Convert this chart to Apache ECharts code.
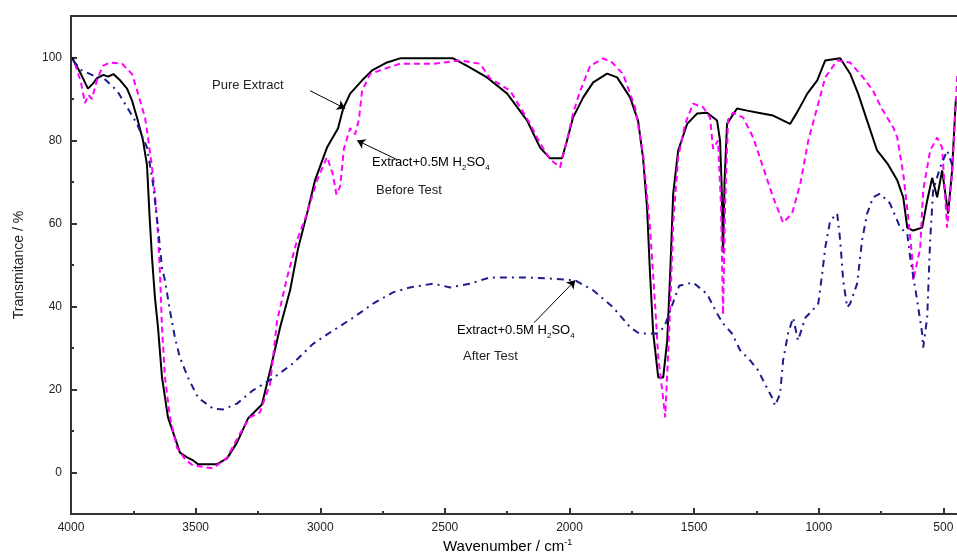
<!DOCTYPE html>
<html>
<head>
<meta charset="utf-8">
<title>FTIR spectra</title>
<script src="https://cdn.jsdelivr.net/npm/echarts@6/dist/echarts.min.js"></script>
<style>
    html, body { margin: 0; padding: 0; background: #fff; }
    #chart { width: 957px; height: 559px; }
</style>
</head>
<body>
<div id="chart"></div>
<script>
(function () {
    "use strict";

    // ---- Data (wavenumber in cm-1, transmittance in %) ----
    const pureWn = [3996, 3960, 3932, 3912, 3896, 3870, 3851, 3830, 3803, 3775, 3755, 3735, 3711, 3695, 3685, 3675, 3663, 3651, 3635, 3611, 3583, 3563, 3530, 3510, 3490, 3414, 3374, 3334, 3290, 3234, 3201, 3161, 3121, 3089, 3053, 3021, 2973, 2929, 2908, 2880, 2832, 2792, 2732, 2680, 2467, 2411, 2331, 2250, 2170, 2118, 2078, 2030, 2010, 1986, 1945, 1905, 1849, 1809, 1757, 1725, 1705, 1689, 1677, 1664, 1644, 1624, 1608, 1596, 1584, 1564, 1528, 1488, 1448, 1408, 1396, 1390, 1384, 1378, 1368, 1328, 1287, 1243, 1183, 1115, 1083, 1046, 1006, 974, 914, 874, 842, 806, 766, 725, 685, 661, 645, 621, 585, 565, 545, 525, 505, 481, 465, 450];
    const pureT = [100, 96, 92.5, 93.7, 95, 95.8, 95.4, 96, 94.5, 92.5, 89.6, 85.5, 80, 74, 62, 51.8, 42, 35, 23, 13.3, 8.4, 4.8, 3.5, 2.9, 2, 2, 3.4, 7.2, 13, 16.4, 24.6, 35, 43.9, 54, 62.4, 70.4, 78.3, 82.9, 87.7, 91.3, 94.5, 96.9, 98.8, 99.8, 99.8, 98, 95.2, 91.3, 84.8, 78.3, 75.7, 75.7, 80, 85.5, 90.4, 94, 96.1, 95.2, 90.4, 84.8, 75.9, 63.9, 48, 33.5, 22.9, 22.9, 31.8, 48, 67.2, 77.6, 84, 86.5, 86.7, 84.8, 80, 70, 53, 70, 84, 87.7, 87.2, 86.7, 86, 84, 87.2, 91.3, 94.5, 99.3, 99.8, 96.1, 91.3, 84.8, 77.6, 74.5, 70.4, 66.3, 59, 58.3, 59, 65.5, 71, 66.3, 72.8, 62.4, 72.8, 90];

    const beforeWn = [3984, 3960, 3944, 3930, 3916, 3896, 3872, 3843, 3795, 3755, 3731, 3703, 3691, 3675, 3663, 3651, 3643, 3635, 3623, 3603, 3575, 3540, 3510, 3430, 3374, 3322, 3282, 3242, 3201, 3173, 3133, 3093, 3053, 3013, 2973, 2950, 2935, 2920, 2905, 2880, 2860, 2845, 2832, 2800, 2760, 2680, 2547, 2439, 2359, 2319, 2238, 2158, 2118, 2078, 2038, 2010, 1986, 1957, 1917, 1865, 1829, 1785, 1737, 1705, 1677, 1656, 1644, 1628, 1616, 1608, 1596, 1584, 1564, 1536, 1504, 1464, 1436, 1424, 1404, 1392, 1384, 1376, 1364, 1344, 1303, 1263, 1223, 1183, 1143, 1107, 1074, 1042, 1002, 974, 926, 874, 822, 782, 750, 725, 700, 685, 661, 641, 625, 621, 593, 581, 553, 525, 505, 485, 465, 444];
    const beforeT = [98.5, 94, 89, 91, 90, 94.5, 98, 98.8, 98.5, 96, 91.3, 85.5, 80.7, 73.5, 67, 57.6, 48, 35, 23, 13.3, 6, 3, 1.7, 1, 3.6, 9.4, 13.3, 14.5, 21.4, 36.6, 47, 56, 62.4, 70.4, 76, 72, 67, 69, 78, 83, 81.5, 85, 92, 96, 96.9, 98.5, 98.5, 99.3, 98.5, 95, 92, 84, 79.3, 75.5, 73.5, 80, 86.5, 92, 98, 99.8, 98.8, 96, 88, 76.9, 59, 39.8, 27.7, 19.8, 13.3, 23.8, 39.8, 60, 76, 84, 88.9, 88, 85.5, 78, 80, 64, 38, 64, 85, 86.7, 85.5, 80.7, 73.5, 66.3, 60.2, 62.4, 69.6, 80, 88.9, 95.2, 99.3, 98.8, 95.2, 92, 88, 85.5, 83, 80.7, 72, 61.4, 51.8, 46.3, 54, 68, 77.6, 80.7, 78.3, 59, 72, 96];

    const afterWn = [3992, 3960, 3912, 3872, 3815, 3775, 3735, 3695, 3671, 3651, 3635, 3623, 3603, 3583, 3563, 3531, 3490, 3430, 3390, 3334, 3270, 3190, 3109, 3029, 2949, 2868, 2788, 2708, 2640, 2547, 2479, 2399, 2319, 2170, 2066, 1977, 1905, 1825, 1757, 1720, 1650, 1620, 1596, 1560, 1504, 1448, 1408, 1384, 1348, 1315, 1275, 1243, 1223, 1187, 1175, 1155, 1143, 1123, 1103, 1083, 1054, 1026, 1002, 986, 974, 954, 926, 914, 902, 886, 874, 846, 826, 806, 782, 754, 714, 673, 645, 633, 605, 585, 581, 565, 553, 541, 513, 485, 461];
    const afterT = [99.3, 97, 95.7, 95.2, 92, 88, 84, 78.3, 69.6, 59, 49.4, 46.3, 39, 32.5, 27.7, 22.9, 18, 15.4, 15.2, 16.6, 19.8, 22.7, 26.3, 31, 34.2, 37.3, 40.7, 43.4, 44.6, 45.5, 44.6, 45.5, 47, 47, 46.7, 46.3, 43.9, 39.8, 35, 33.5, 33.5, 35, 39, 45, 45.8, 43, 38.3, 35.9, 33.5, 29.4, 27, 24.6, 22.2, 18, 16.1, 19, 27, 33.5, 37.3, 31.8, 37.3, 39, 40.7, 48, 54.2, 60.7, 62.4, 56, 46.3, 39.8, 40.7, 45.5, 56, 62.4, 66.3, 67.2, 64.8, 59, 57.6, 51.8, 41.4, 33.5, 30.1, 37.3, 56, 68, 73.5, 77.6, 73.5];

    // ---- Ticks ----
    const yMajor = [0, 20, 40, 60, 80, 100];
    const yMinor = [10, 30, 50, 70, 90];

    // ---- Annotation arrows (data coords: from -> to) ----
    const arrowPure = [[3041, 92], [2900, 87.7]];
    const arrowBefore = [[2692, 75.4], [2852, 80]];
    const arrowAfter = [[2142, 36.1], [1977, 46.3]];

    const FONT = "'Liberation Sans', Arial, sans-serif";
    const TXT = "#222";
    const FRAME = "#333";

    function zip(xs, ys) { return xs.map((x, i) => [x, ys[i]]); }
    function arrow(a) { return [{ coord: a[0] }, { coord: a[1] }]; }

    const h2so4 = {
        n: { fontSize: 13, fontFamily: FONT, color: TXT, lineHeight: 18 },
        s: { fontSize: 8, fontFamily: FONT, color: TXT, lineHeight: 10, verticalAlign: "bottom" }
    };

    const el = document.getElementById("chart");
    const chart = echarts.init(el, null, { renderer: "canvas" });

    chart.setOption({
        animation: false,
        backgroundColor: "#fff",
        grid: {
            left: 71, top: 16, width: 997, height: 498,
            outerBoundsMode: "none", containLabel: false,
            show: true, borderColor: FRAME, borderWidth: 2, backgroundColor: "transparent"
        },
        xAxis: {
            type: "value", inverse: true, min: 0, max: 4000, interval: 500,
            axisLine: { show: true, onZero: false, lineStyle: { color: FRAME, width: 2 } },
            axisTick: { inside: true, length: 6, lineStyle: { color: FRAME, width: 2 } },
            minorTick: { show: true, splitNumber: 2, length: 3, lineStyle: { color: FRAME, width: 2 } },
            axisLabel: { fontFamily: FONT, fontSize: 12, color: TXT, margin: 8, formatter: v => String(v) },
            splitLine: { show: false }
        },
        yAxis: [{
            type: "value", min: -10, max: 110,
            name: "Transmitance / %", nameLocation: "middle", nameGap: 45, nameRotate: 90,
            nameTextStyle: { fontFamily: FONT, fontSize: 14, color: TXT },
            axisLine: { show: true, onZero: false, lineStyle: { color: FRAME, width: 2 } },
            axisTick: { inside: true, length: 6, customValues: yMajor, lineStyle: { color: FRAME, width: 2 } },
            axisLabel: { customValues: yMajor, fontFamily: FONT, fontSize: 12, color: TXT, margin: 9, formatter: v => String(v) },
            splitLine: { show: false }
        }, {
            type: "value", min: -10, max: 110, position: "left",
            axisLine: { show: false, onZero: false },
            axisTick: { inside: true, length: 3, customValues: yMinor, lineStyle: { color: FRAME, width: 2 } },
            axisLabel: { show: false },
            splitLine: { show: false }
        }],
        series: [{
            name: "Pure Extract", type: "line", data: zip(pureWn, pureT),
            showSymbol: false, symbol: "none", silent: true,
            lineStyle: { color: "#000", width: 2 },
            markLine: {
                silent: true, symbol: ["none", "arrow"], symbolSize: 8,
                label: { show: false },
                lineStyle: { color: "#000", width: 1, type: "solid" },
                data: [arrow(arrowPure), arrow(arrowBefore), arrow(arrowAfter)]
            }
        }, {
            name: "Extract+0.5M H2SO4 Before Test", type: "line", data: zip(beforeWn, beforeT),
            showSymbol: false, symbol: "none", silent: true,
            lineStyle: { color: "#ff00ff", width: 2, type: [6, 4] }
        }, {
            name: "Extract+0.5M H2SO4 After Test", type: "line", data: zip(afterWn, afterT),
            showSymbol: false, symbol: "none", silent: true,
            lineStyle: { color: "#1c1c8c", width: 2, type: [7, 5, 2, 5] }
        }],
        graphic: [{
            type: "text", left: 212, top: 79,
            style: { text: "Pure Extract", font: "13px " + FONT, fill: TXT }
        }, {
            type: "text", left: 372, top: 156,
            style: { text: "{n|Extract+0.5M H}{s|2}{n|SO}{s|4}", rich: h2so4 }
        }, {
            type: "text", left: 376, top: 184,
            style: { text: "Before Test", font: "13px " + FONT, fill: TXT }
        }, {
            type: "text", left: 457, top: 324,
            style: { text: "{n|Extract+0.5M H}{s|2}{n|SO}{s|4}", rich: h2so4 }
        }, {
            type: "text", left: 463, top: 350,
            style: { text: "After Test", font: "13px " + FONT, fill: TXT }
        }, {
            type: "text", left: 443, top: 538,
            style: {
                text: "{n|Wavenumber / cm}{s|-1}",
                rich: {
                    n: { fontSize: 15, fontFamily: FONT, color: TXT, lineHeight: 18 },
                    s: { fontSize: 9, fontFamily: FONT, color: TXT, lineHeight: 18, verticalAlign: "top" }
                }
            }
        }]
    });

    window.addEventListener("resize", () => chart.resize());
})();
</script>
</body>
</html>
